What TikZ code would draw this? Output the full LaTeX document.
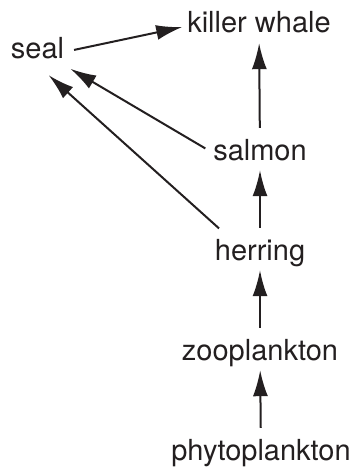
\documentclass[tikz,border=0pt]{standalone}
\usepackage{fontspec}
\setmainfont{TeX Gyre Heros}
\usepackage{xcolor}
\usepackage{tikz}
\usetikzlibrary{arrows.meta,positioning,calc}

\definecolor{ink}{HTML}{231F20}

\begin{document}
\begin{tikzpicture}[
    x=1pt, y=-1pt,
    every node/.style = {anchor=base, inner sep=0pt, text height=20pt, text depth=6pt,
                         font=\fontsize{29}{34}\selectfont, text=ink},
    >={Latex[length=26pt, width=15pt]},
    feed/.style = {->, draw=ink, line width=2pt},
    up/.style = {feed, shorten <=12pt, shorten >=4pt}
  ]
  \useasboundingbox (0,0) rectangle (358,468);

  % 食物链
  \node (seal)    at (37.5,59) {seal};
  \node (whale)   at (259,33)  {killer whale};
  \node (salmon)  at (260,160) {salmon};
  \node (herring) at (260,260) {herring};
  \node (zoo)     at (260,360) {zooplankton};
  \node (phyto)   at (261,460) {phytoplankton};

  % 竖直箭头
  \draw[up] (salmon) -- (whale);
  \draw[up] (herring) -- (salmon);
  \draw[up] (zoo) -- (herring);
  \draw[up] (phyto) -- (zoo);

  % 斜向箭头
  \draw[feed, shorten <=10pt, shorten >=5pt] (seal.east) -- (whale.west);
  \draw[feed, shorten <=9pt, shorten >=7pt] (salmon.west) -- (seal.south east);
  \draw[feed, shorten <=17pt, shorten >=15pt] (herring.155) -- (seal.south);
\end{tikzpicture}
\end{document}
